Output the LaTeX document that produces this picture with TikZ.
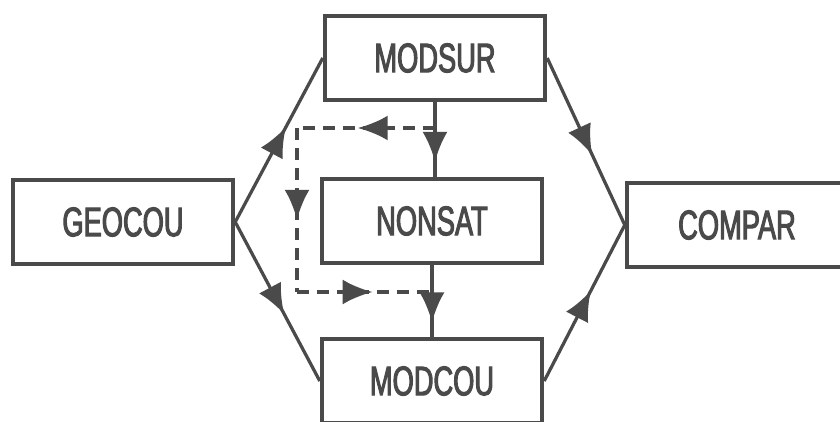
\documentclass[tikz,border=0pt]{standalone}
\usepackage{fontspec}
\setmainfont[FakeStretch=0.66, FakeBold=2.5]{Liberation Sans}
\usetikzlibrary{arrows.meta, decorations.markings}

\definecolor{ink}{HTML}{4A4A4A}

\begin{document}
\begin{tikzpicture}[x=0.02cm, y=-0.02cm, >={Latex[length=0.6cm, width=0.5cm]}]
    \tikzstyle{unit}=[draw=ink, text=ink, line width=0.09cm, minimum width=4.4cm, minimum height=1.68cm, font=\fontsize{23.5}{25}\selectfont]
    \tikzstyle{flow}=[draw=ink, line width=0.065cm, postaction={decorate},
        decoration={markings, mark=at position 0.58 with {\arrow[ink]{>}}}]
    \tikzstyle{drop}=[draw=ink, line width=0.065cm, postaction={decorate},
        decoration={markings, mark=at position 0.8 with {\arrow[ink]{>}}}]
    \tikzstyle{back}=[draw=ink, line width=0.07cm, dash pattern=on 0.24cm off 0.16cm, postaction={decorate},
        decoration={markings, mark=at position 0.56 with {\arrow[ink]{>}}}]

    \useasboundingbox (0,0) rectangle (840,422);
    \clip (0,0) rectangle (840,422);

    \node[unit] (geocou) at (123, 222) {GEOCOU};
    \node[unit] (modsur) at (435, 58) {MODSUR};
    \node[unit] (nonsat) at (432, 221) {NONSAT};
    \node[unit] (modcou) at (432, 381) {MODCOU};
    \node[unit] (compar) at (737, 225) {COMPAR};

    % feedback loop corners
    \coordinate (fbtop) at (435, 128);
    \coordinate (fbbot) at (432, 292);
    \coordinate (fbx) at (297, 210);

    \path[flow] (geocou.east) -- (modsur.west);
    \path[flow] (geocou.east) -- (modcou.west);
    \path[flow] (modsur.east) -- (compar.west);
    \path[flow] (modcou.east) -- (compar.west);

    \path[drop] (modsur.south) -- (modsur.south |- nonsat.north);
    \path[drop] (nonsat.south) -- (nonsat.south |- modcou.north);

    \path[back] (fbtop) -- (fbtop -| fbx);
    \path[back] (fbtop -| fbx) -- (fbbot -| fbx);
    \path[back] (fbbot -| fbx) -- (fbbot);
\end{tikzpicture}
\end{document}
